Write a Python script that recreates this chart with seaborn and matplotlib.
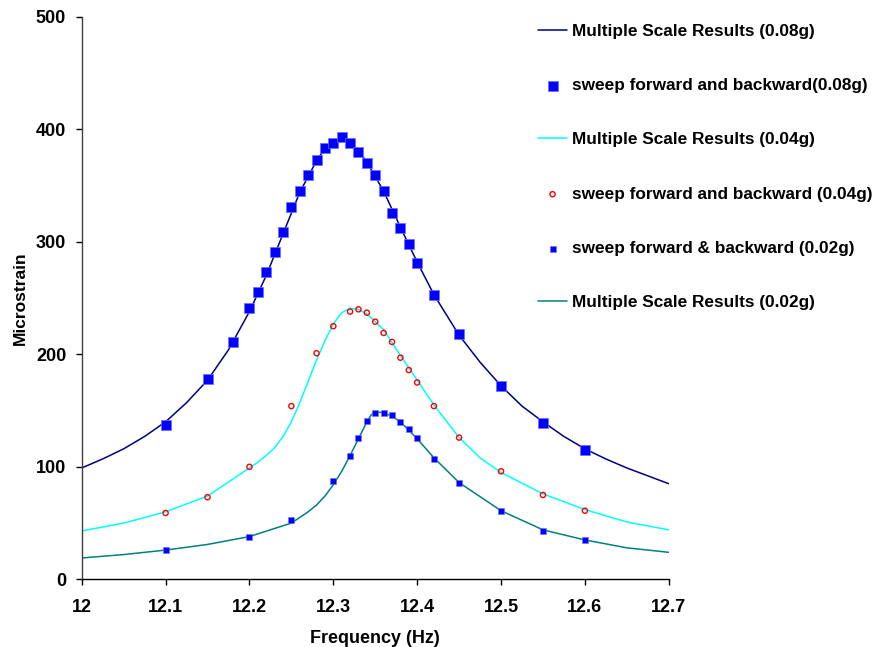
import matplotlib
matplotlib.use("Agg")
import matplotlib.pyplot as plt
import seaborn as sns

sns.set_theme(style="white")
plt.rcParams['font.family'] = ['Liberation Sans', 'DejaVu Sans']
plt.rcParams['font.weight'] = 'bold'
plt.rcParams['text.color'] = 'black'
plt.rcParams['axes.labelcolor'] = 'black'

# 0.08g sweep data
x08_pts = [12.1, 12.15, 12.18, 12.2, 12.21, 12.22, 12.23, 12.24, 12.25, 12.26, 12.27, 12.28, 12.29, 12.3,
           12.31, 12.32, 12.33, 12.34, 12.35, 12.36, 12.37, 12.38, 12.39, 12.4, 12.42, 12.45, 12.5, 12.55, 12.6]
y08_pts = [137, 178, 211, 241, 255, 273, 291, 309, 331, 345, 359, 373, 383, 388,
           393, 388, 380, 370, 359, 345, 326, 312, 298, 281, 253, 218, 172, 139, 115]
# 0.08g multiple scale curve
x08_line = [12.0, 12.025, 12.05, 12.075, 12.1, 12.125, 12.15, 12.175, 12.2, 12.22, 12.24, 12.26, 12.28, 12.29,
            12.3, 12.31, 12.32, 12.33, 12.34, 12.36, 12.38, 12.4, 12.42, 12.45, 12.475, 12.5, 12.525, 12.55,
            12.575, 12.6, 12.625, 12.65, 12.675, 12.7]
y08_line = [99, 107, 116, 127, 140, 157, 177, 204, 238, 270, 307, 344, 372, 383,
            389, 391, 389, 381, 371, 345, 313, 282, 253, 217, 193, 172, 154, 140,
            127, 116, 107, 99, 92, 85]

# 0.04g sweep data
x04_pts = [12.1, 12.15, 12.2, 12.25, 12.28, 12.3, 12.32, 12.33, 12.34, 12.35, 12.36, 12.37, 12.38, 12.39,
           12.4, 12.42, 12.45, 12.5, 12.55, 12.6]
y04_pts = [59, 73, 100, 154, 201, 225, 238, 240, 237, 229, 219, 211, 197, 186,
           175, 154, 126, 96, 75, 61]
# 0.04g multiple scale curve
x04_line = [12.0, 12.05, 12.1, 12.15, 12.2, 12.21, 12.22, 12.23, 12.24, 12.25, 12.26, 12.27, 12.28, 12.29,
            12.3, 12.31, 12.32, 12.33, 12.34, 12.36, 12.38, 12.4, 12.42, 12.45, 12.475, 12.5, 12.55, 12.6,
            12.65, 12.7]
y04_line = [43, 50, 60, 74, 99, 104, 110, 117, 127, 140, 157, 176, 195, 212,
            227, 237, 241, 240, 236, 222, 199, 177, 155, 126, 108, 95, 76, 62,
            51, 44]

# 0.02g sweep data
x02_pts = [12.1, 12.2, 12.25, 12.3, 12.32, 12.33, 12.34, 12.35, 12.36, 12.37, 12.38, 12.39, 12.4, 12.42,
           12.45, 12.5, 12.55, 12.6]
y02_pts = [26, 38, 53, 87, 110, 126, 141, 148, 148, 146, 140, 134, 126, 107,
           86, 61, 43, 35]
# 0.02g multiple scale curve
x02_line = [12.0, 12.05, 12.1, 12.15, 12.2, 12.25, 12.26, 12.27, 12.28, 12.29, 12.3, 12.31, 12.32, 12.33,
            12.34, 12.345, 12.35, 12.36, 12.37, 12.38, 12.4, 12.42, 12.45, 12.5, 12.55, 12.6, 12.65, 12.7]
y02_line = [19, 22, 26, 31, 38, 50, 55, 60, 66, 74, 84, 96, 110, 125,
            140, 146, 149, 148, 145, 140, 125, 108, 86, 61, 44, 35, 28, 24]

x_ticks = [12, 12.1, 12.2, 12.3, 12.4, 12.5, 12.6, 12.7]
x_tick_labels = ['12', '12.1', '12.2', '12.3', '12.4', '12.5', '12.6', '12.7']
y_ticks = [0, 100, 200, 300, 400, 500]

fig = plt.figure(figsize=(8.76, 6.47), dpi=100)
ax = fig.add_axes([0.0933, 0.1046, 0.6701, 0.8694])

sns.lineplot(x=x08_line, y=y08_line, ax=ax, color='#000080', lw=1.1,
             label='Multiple Scale Results (0.08g)', estimator=None, sort=False)
sns.scatterplot(x=x08_pts, y=y08_pts, ax=ax, color='#0000FF', marker='s', s=50, edgecolor='#6f6fff',
                linewidth=0.5, label='sweep forward and backward(0.08g)', zorder=3)
sns.lineplot(x=x04_line, y=y04_line, ax=ax, color='#00FFFF', lw=1.1,
             label='Multiple Scale Results (0.04g)', estimator=None, sort=False)
sns.scatterplot(x=x04_pts, y=y04_pts, ax=ax, marker='o', s=14, facecolor='none', edgecolor='#FF0000',
                linewidth=1.0, label='sweep forward and backward (0.04g)', zorder=3)
sns.scatterplot(x=x02_pts, y=y02_pts, ax=ax, color='#0000FF', marker='s', s=22, edgecolor='#6f6fff',
                linewidth=0.4, label='sweep forward & backward (0.02g)', zorder=3)
sns.lineplot(x=x02_line, y=y02_line, ax=ax, color='#008080', lw=1.1,
             label='Multiple Scale Results (0.02g)', estimator=None, sort=False)

ax.set_xlim(12, 12.7)
ax.set_ylim(0, 500)
ax.set_xticks(x_ticks)
ax.set_xticklabels(x_tick_labels)
ax.set_yticks(y_ticks)
for s in ['top', 'right']:
    ax.spines[s].set_visible(False)
for s in ['left', 'bottom']:
    ax.spines[s].set_color('black')
    ax.spines[s].set_linewidth(1.0)
ax.spines['left'].set_color('#404040')
ax.tick_params(axis='both', which='major', direction='out', length=4.2, width=1, colors='black',
               labelsize=13, left=True, bottom=True)
ax.tick_params(axis='x', pad=10)
ax.tick_params(axis='y', pad=7)
for lab in ax.get_xticklabels() + ax.get_yticklabels():
    lab.set_fontweight('bold')
ax.set_xlabel('Frequency (Hz)', fontsize=13, fontweight='bold', labelpad=10)
ax.set_ylabel('Microstrain', fontsize=12.5, fontweight='bold', labelpad=6)

ax.legend(loc='upper left', bbox_to_anchor=(0.6062, 0.974), bbox_transform=fig.transFigure,
          frameon=False, prop={'weight': 'bold', 'size': 12.4},
          handlelength=1.7, labelspacing=2.28, handletextpad=0.26, borderaxespad=0)

fig.savefig('out.png', dpi=100)
